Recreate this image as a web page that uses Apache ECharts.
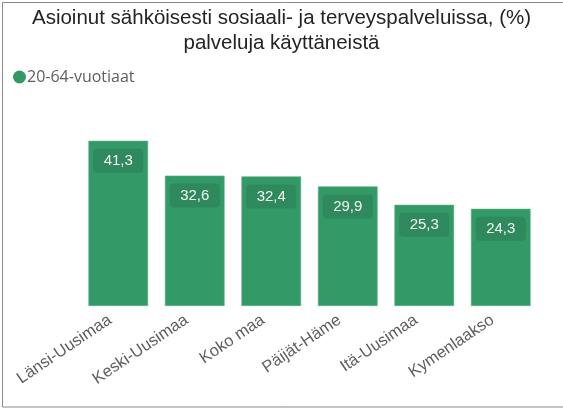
<!DOCTYPE html>
<html>
<head>
<meta charset="utf-8">
<script src="https://cdn.jsdelivr.net/npm/echarts@6/dist/echarts.min.js"></script>
<style>
html,body{margin:0;padding:0;background:#fff;}
#c{width:563px;height:409px;}
</style>
</head>
<body>
<div id="c"></div>
<script>
const titleText = "Asioinut sähköisesti sosiaali- ja terveyspalveluissa, (%)\npalveluja käyttäneistä";
const seriesName = "20-64-vuotiaat";
const categories = ["Länsi-Uusimaa", "Keski-Uusimaa", "Koko maa", "Päijät-Häme", "Itä-Uusimaa", "Kymenlaakso"];
const values = [41.3, 32.6, 32.4, 29.9, 25.3, 24.3];

const chart = echarts.init(document.getElementById('c'));
chart.setOption({
  animation: false,
  graphic: [{
    type: 'rect',
    shape: {x: 2.5, y: 2.5, width: 620, height: 404.5},
    style: {fill: 'none', stroke: '#8a8a8a', lineWidth: 1},
    silent: true
  }],
  title: {
    text: titleText,
    left: 'center',
    top: 1,
    textStyle: {
      fontFamily: 'Liberation Sans, Arial, sans-serif',
      fontSize: 20.5,
      fontWeight: 'normal',
      color: '#252423',
      lineHeight: 25
    }
  },
  legend: {
    data: [seriesName],
    left: 8,
    top: 64,
    icon: 'circle',
    itemWidth: 13,
    itemHeight: 13,
    itemGap: 4,
    itemStyle: {borderWidth: 0},
    textStyle: {
      fontFamily: 'Open Sans, Noto Sans, sans-serif',
      fontSize: 16,
      color: '#605e5c',
      padding: [0, 0, 0, -4]
    }
  },
  grid: {left: 80, right: 24, top: 126, bottom: 103, containLabel: false},
  xAxis: {
    type: 'category',
    data: categories,
    axisLine: {show: false},
    axisTick: {show: false},
    axisLabel: {
      rotate: 34,
      interval: 0,
      margin: 7,
      padding: [0, 10, 0, 0],
      fontFamily: 'Liberation Sans, Arial, sans-serif',
      fontSize: 16.5,
      color: '#605e5c'
    }
  },
  yAxis: {
    type: 'value',
    min: 0,
    max: 45,
    show: false,
    splitLine: {show: false}
  },
  series: [{
    name: seriesName,
    type: 'bar',
    data: values,
    barWidth: '78%',
    itemStyle: {color: '#339966', borderColor: '#5fb386', borderWidth: 0.6},
    label: {
      show: true,
      position: 'insideTop',
      distance: 8,
      formatter: p => String(p.value).replace('.', ','),
      fontFamily: 'Liberation Sans, Arial, sans-serif',
      fontSize: 15,
      color: '#f4f4f4',
      backgroundColor: 'rgba(40,120,80,0.45)',
      borderRadius: 4,
      width: 36,
      align: 'center',
      padding: [5, 7, 4, 7]
    }
  }]
});
</script>
</body>
</html>
